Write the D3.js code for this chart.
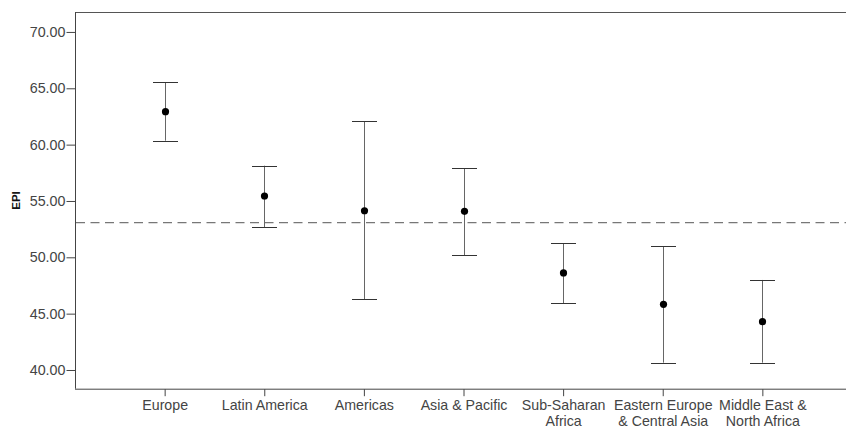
<!DOCTYPE html>
<html lang="en">
<head>
    <meta charset="UTF-8">
    <script src="https://d3js.org/d3.v7.min.js"></script>
    <style>
        body { margin: 0; background: #fff; }
        svg { display: block; }
        text { font-family: "Liberation Sans", Arial, sans-serif; }
    </style>
    <title>EPI by region</title>
</head>
<body>
<svg id="chart" width="846" height="430"></svg>
<script>
    // regions and their mean EPI with 95% CI bounds
    var regions = ["Europe", "Latin America", "Americas", "Asia & Pacific",
        "Sub-Saharan\nAfrica", "Eastern Europe\n& Central Asia", "Middle East &\nNorth Africa"];
    var means = [62.92, 55.44, 54.13, 54.08, 48.61, 45.83, 44.29];
    var upper = [65.53, 58.13, 62.07, 57.90, 51.24, 51.00, 47.99];
    var lower = [60.35, 52.69, 46.27, 50.20, 45.94, 40.65, 40.65];
    var overallMean = 53.07;
    var yTicks = [40, 45, 50, 55, 60, 65, 70];

    var svg = d3.select("#chart");
    // note: "top" is reserved on window, so use plot* names
    var plotLeft = 75, plotRight = 846, plotTop = 12, plotBottom = 388.7;

    var x = d3.scalePoint()
        .domain(regions)
        .range([plotLeft, 852])
        .padding(0.9);

    var y = d3.scaleLinear()
        .domain([38.34, 71.77])
        .range([plotBottom, plotTop]);

    // frame: top line
    svg.append("line")
        .attr("x1", plotLeft).attr("x2", plotRight)
        .attr("y1", plotTop + 0.5).attr("y2", plotTop + 0.5)
        .attr("stroke", "#555");

    // y axis
    var yAxis = svg.append("g")
        .attr("transform", "translate(" + (plotLeft + 0.5) + ",0)")
        .call(d3.axisLeft(y).tickValues(yTicks).tickSize(9).tickPadding(1)
            .tickFormat(d3.format(".2f")));
    yAxis.select(".domain").attr("stroke", "#444").attr("d", "M0," + plotTop + "V" + plotBottom);
    yAxis.selectAll(".tick line").attr("stroke", "#444");
    yAxis.selectAll(".tick text")
        .attr("fill", "#444")
        .style("font-size", "14.3px");

    // x axis
    var xAxis = svg.append("g")
        .attr("transform", "translate(0," + (plotBottom + 0.5) + ")")
        .call(d3.axisBottom(x).tickSize(7).tickFormat(""));
    xAxis.select(".domain").attr("stroke", "#444").attr("d", "M" + plotLeft + ",0H" + plotRight);
    xAxis.selectAll(".tick line").attr("stroke", "#444");

    xAxis.selectAll(".tick").each(function (d) {
        var lines = d.split("\n");
        var t = d3.select(this).append("text")
            .attr("fill", "#444")
            .attr("text-anchor", "middle")
            .style("font-size", "14.2px");
        lines.forEach(function (s, i) {
            t.append("tspan").attr("x", 0).attr("y", 21 + i * 16).text(s);
        });
    });

    // y label
    svg.append("text")
        .attr("transform", "translate(19.5,200.5) rotate(-90)")
        .attr("text-anchor", "middle")
        .attr("fill", "#111")
        .style("font-size", "11.5px")
        .style("font-weight", "bold")
        .text("EPI");

    // reference line at overall mean
    svg.append("line")
        .attr("x1", plotLeft + 1).attr("x2", plotRight)
        .attr("y1", y(overallMean)).attr("y2", y(overallMean))
        .attr("stroke", "#777")
        .attr("stroke-width", 1.3)
        .attr("stroke-dasharray", "9,5.5");

    // error bars
    var bars = svg.selectAll(".bar")
        .data(regions)
        .enter().append("g")
        .attr("class", "bar");

    bars.append("line")
        .attr("x1", function (d) { return Math.round(x(d)) + 0.5; })
        .attr("x2", function (d) { return Math.round(x(d)) + 0.5; })
        .attr("y1", function (d, i) { return y(upper[i]); })
        .attr("y2", function (d, i) { return y(lower[i]); })
        .attr("stroke", "#666");

    [upper, lower].forEach(function (arr) {
        bars.append("line")
            .attr("x1", function (d) { return Math.round(x(d)) - 12; })
            .attr("x2", function (d) { return Math.round(x(d)) + 13; })
            .attr("y1", function (d, i) { return Math.round(y(arr[i])) + 0.5; })
            .attr("y2", function (d, i) { return Math.round(y(arr[i])) + 0.5; })
            .attr("stroke", "#333");
    });

    bars.append("circle")
        .attr("cx", function (d) { return Math.round(x(d)) + 0.5; })
        .attr("cy", function (d, i) { return y(means[i]); })
        .attr("r", 3.6)
        .attr("fill", "#000");
</script>
</body>
</html>
